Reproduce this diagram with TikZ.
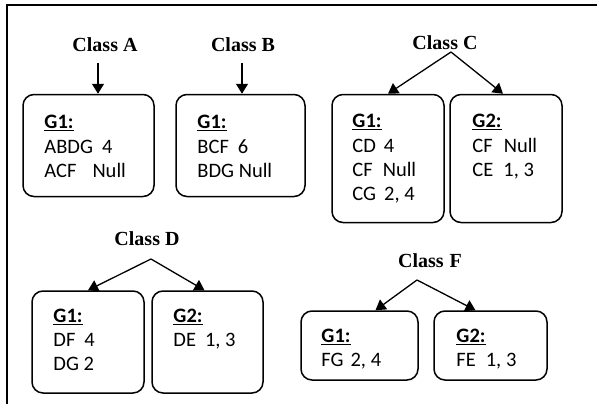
\documentclass[tikz,border=0pt]{standalone}
\usepackage{fontspec}
\setmainfont{Carlito}
\newfontfamily\classfont{Liberation Serif}
\usetikzlibrary{arrows.meta}

% one group: underlined bold heading followed by its entries
\newcommand{\grp}[2]{\begin{tabular}[t]{@{}l@{}}\underline{\textbf{#1}}\\#2\end{tabular}}
\newcommand{\gap}[1]{\hspace{#1pt}}

\begin{document}
\begin{tikzpicture}[x=1pt,y=-1pt,
  gbox/.style={draw, line width=1.5pt, rounded corners=11pt, inner sep=0pt},
  gtext/.style={anchor=base west, inner sep=0pt,
    font=\fontsize{20.5}{24.3}\selectfont},
  clabel/.style={inner sep=0pt, font=\classfont\bfseries\fontsize{20}{22}\selectfont},
  conn/.style={line width=1.3pt, -{Triangle[width=12pt,length=10pt]}}]

\useasboundingbox (0,0) rectangle (597,404);

% frame: top and left edges only
\draw[line width=2pt] (7,404) -- (7,5) -- (597,5);

% Class A
\node[clabel] (la) at (105,45) {Class A};
\coordinate (sa) at (98,63);
\node[gbox, minimum width=131pt, minimum height=102pt] (a1) at (88.5,145.5) {};
\node[gtext] (ta1) at ([xshift=22pt,yshift=-35pt]a1.north west)
  {\grp{G1:}{ABDG\gap{9}4\\ACF\gap{16}Null}};
\draw[conn] (sa) -- (sa |- a1.north);

% Class B
\node[clabel] (lb) at (243,45) {Class B};
\coordinate (sb) at (242,63);
\node[gbox, minimum width=129pt, minimum height=102pt] (b1) at (240.5,145.5) {};
\node[gtext] (tb1) at ([xshift=22pt,yshift=-35pt]b1.north west)
  {\grp{G1:}{BCF\gap{9}6\\BDG Null}};
\draw[conn] (sb) -- (sb |- b1.north);

% Class C
\node[clabel] (lc) at (445,43) {Class C};
\coordinate (sc) at (451,52);
\node[gbox, minimum width=112pt, minimum height=128pt] (c1) at (388,158.5) {};
\node[gbox, minimum width=112pt, minimum height=128pt] (c2) at (506,158.5) {};
\node[gtext] (tc1) at ([xshift=21pt,yshift=-34pt]c1.north west)
  {\grp{G1:}{CD\gap{8}4\\CF\gap{10}Null\\CG\gap{8}2, 4}};
\node[gtext] (tc2) at ([xshift=23pt,yshift=-34pt]c2.north west)
  {\grp{G2:}{CF\gap{11}Null\\CE\gap{10}1, 3}};
\draw[conn] (sc) -- (c1.north);
\draw[conn] (sc) -- ([xshift=-3pt]c2.north);

% Class D
\node[clabel] (ld) at (147,239) {Class D};
\coordinate (sd) at (151,259);
\node[gbox, minimum width=112pt, minimum height=102pt] (d1) at (88,342) {};
\node[gbox, minimum width=111pt, minimum height=102pt] (d2) at (207.5,342) {};
\node[gtext] (td1) at ([xshift=22pt,yshift=-32pt]d1.north west)
  {\grp{G1:}{DF\gap{9}4\\DG 2}};
\node[gtext] (td2) at ([xshift=22pt,yshift=-32pt]d2.north west)
  {\grp{G2:}{DE\gap{9}1, 3}};
\draw[conn] (sd) -- (d1.north);
\draw[conn] (sd) -- ([xshift=-3pt]d2.north);

% Class F
\node[clabel] (lf) at (430,261) {Class\hspace{6pt}F};
\coordinate (sf) at (417,280);
\node[gbox, minimum width=117pt, minimum height=69pt] (f1) at (359.5,345.5) {};
\node[gbox, minimum width=113pt, minimum height=69pt] (f2) at (490.5,345.5) {};
\node[gtext] (tf1) at ([xshift=21pt,yshift=-32pt]f1.north west)
  {\grp{G1:}{FG\gap{7}2, 4}};
\node[gtext] (tf2) at ([xshift=23pt,yshift=-32pt]f2.north west)
  {\grp{G2:}{FE\gap{10}1, 3}};
\draw[conn] (sf) -- ([xshift=16pt]f1.north);
\draw[conn] (sf) -- ([xshift=-15pt]f2.north);

\end{tikzpicture}
\end{document}
